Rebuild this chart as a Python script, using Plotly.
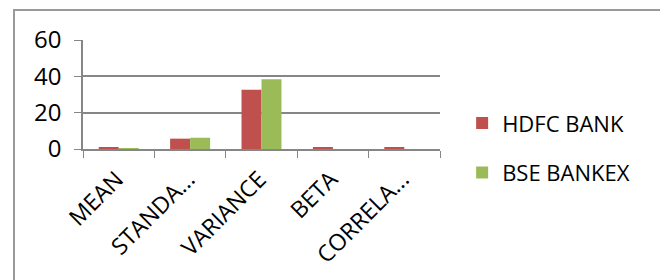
import plotly.graph_objects as go

categories = ["MEAN", "STANDARD DEVIATION", "VARIANCE", "BETA", "CORRELATION"]
tick_labels = ["MEAN", "STANDA...", "VARIANCE", "BETA", "CORRELA..."]
hdfc_bank = [1.1, 5.7, 32.6, 0.6, 0.6]
bse_bankex = [0.3, 6.2, 38.4, 0.0, 0.0]

fig = go.Figure()
fig.add_trace(go.Bar(x=categories, y=hdfc_bank, name="HDFC BANK",
                     marker=dict(color="#C0504D", line=dict(width=0)), legendgroup="a"))
fig.add_trace(go.Bar(x=categories, y=bse_bankex, name="BSE BANKEX",
                     marker=dict(color="#9BBB59", line=dict(width=0)), legendgroup="b"))

font_family = "Open Sans, Liberation Sans, sans-serif"
fig.update_layout(
    width=668, height=280,
    margin=dict(l=75, r=236, t=32, b=139),
    paper_bgcolor="white", plot_bgcolor="white",
    barmode="group", bargap=0.44, bargroupgap=0,
    font=dict(family=font_family, size=21, color="black"),
    showlegend=True,
    legend=dict(x=1.062, y=0.43, xanchor="left", yanchor="top",
                tracegroupgap=18, traceorder="grouped",
                font=dict(size=22), itemwidth=30,
                bgcolor="rgba(0,0,0,0)"),
    xaxis=dict(type="category", tickmode="array", tickvals=categories, ticktext=tick_labels,
               tickangle=-45, tickson="boundaries", ticks="outside", ticklen=7,
               ticklabelstandoff=6, ticklabelshift=-2,
               tickcolor="#868686", showline=True, linecolor="#868686", linewidth=1.5,
               showgrid=False, tickfont=dict(size=23)),
    yaxis=dict(range=[0, 60], dtick=20, ticks="outside", ticklen=7, tickcolor="#868686",
               ticklabelstandoff=8,
               showline=True, linecolor="#868686", linewidth=1.5,
               showgrid=True, gridcolor="#868686", gridwidth=1.5,
               zeroline=False, tickfont=dict(size=24)),
    shapes=[dict(type="rect", xref="paper", yref="paper",
                 x0=(14 - 83) / 357, x1=(664 - 83) / 357,
                 y0=(149 - 290) / 109, y1=(149 - 10) / 109,
                 line=dict(color="#9a9a9a", width=2), layer="below")],
)

fig.write_html("out.html")
